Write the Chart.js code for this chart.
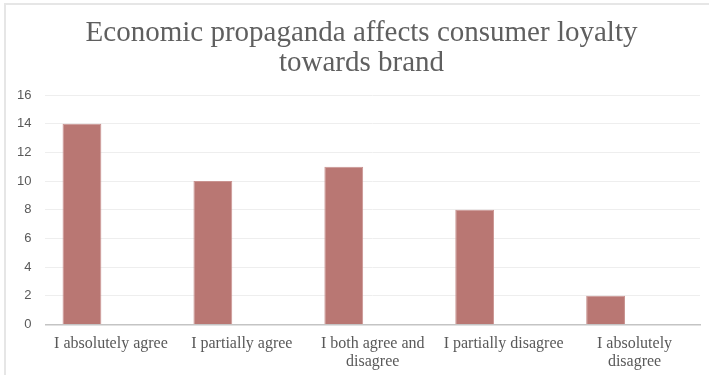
<!DOCTYPE html>
<html>
<head>
<meta charset="utf-8">
<script src="https://cdn.jsdelivr.net/npm/chart.js@4/dist/chart.umd.min.js"></script>
<style>
  html, body { margin: 0; padding: 0; background: #fff; }
  #wrap { position: relative; width: 709px; height: 375px; }
  #frame {
    position: absolute; left: 4px; top: 3px; right: -10px; bottom: -10px;
    border-left: 2px solid #e6e6e6; border-top: 2px solid #e6e6e6;
    pointer-events: none;
  }
</style>
</head>
<body>
<div id="wrap">
  <canvas id="chart" width="709" height="375"></canvas>
  <div id="frame"></div>
</div>
<script>
const categories = [
    'I absolutely agree',
    'I partially agree',
    ['I both agree and', 'disagree'],
    'I partially disagree',
    ['I absolutely', 'disagree']
];
const responses = [14, 10, 11, 8, 2];
const yTicks = [0, 2, 4, 6, 8, 10, 12, 14, 16];
const titleLines = ['Economic propaganda affects consumer loyalty', 'towards brand'];

// the original title sits a bit right of the canvas centre
const titleShift = {
    id: 'titleShift',
    afterLayout(chart) {
        const t = chart.titleBlock;
        if (t) { t.left += 10; t.right += 10; }
    }
};

const ctx = document.getElementById('chart').getContext('2d');
new Chart(ctx, {
    type: 'bar',
    data: {
        labels: categories,
        datasets: [
            {
                label: 'Responses',
                data: responses,
                backgroundColor: '#b97773',
                borderColor: '#c99390',
                borderWidth: 1,
                categoryPercentage: 0.885,
                barPercentage: 0.67
            },
            {
                // empty second series, keeps the bars on the left of each slot
                label: '',
                data: [],
                backgroundColor: '#ffffff',
                categoryPercentage: 0.885,
                barPercentage: 0.67
            }
        ]
    },
    options: {
        responsive: false,
        maintainAspectRatio: false,
        animation: false,
        layout: { padding: { left: 3, right: 9, top: 0, bottom: 2 } },
        plugins: {
            legend: { display: false },
            tooltip: { enabled: false },
            title: {
                display: true,
                text: titleLines,
                color: '#5f5f5f',
                font: { family: 'Liberation Serif', size: 29, weight: 'normal', lineHeight: '30px' },
                padding: { top: 18, bottom: 17 }
            }
        },
        scales: {
            x: {
                grid: { display: false },
                border: { display: true, color: '#c4c4c4', width: 1.5 },
                ticks: {
                    color: '#595959',
                    font: { family: 'Liberation Serif', size: 16, lineHeight: 1.08 },
                    maxRotation: 0,
                    autoSkip: false,
                    padding: 3
                }
            },
            y: {
                min: 0,
                max: 16,
                afterBuildTicks: axis => { axis.ticks = yTicks.map(v => ({ value: v })); },
                grid: { color: '#eeeeee', lineWidth: 1, drawTicks: false },
                border: { display: false },
                ticks: {
                    color: '#595959',
                    font: { family: 'Liberation Sans', size: 13 },
                    padding: 14
                }
            }
        }
    },
    plugins: [titleShift]
});
</script>
</body>
</html>
